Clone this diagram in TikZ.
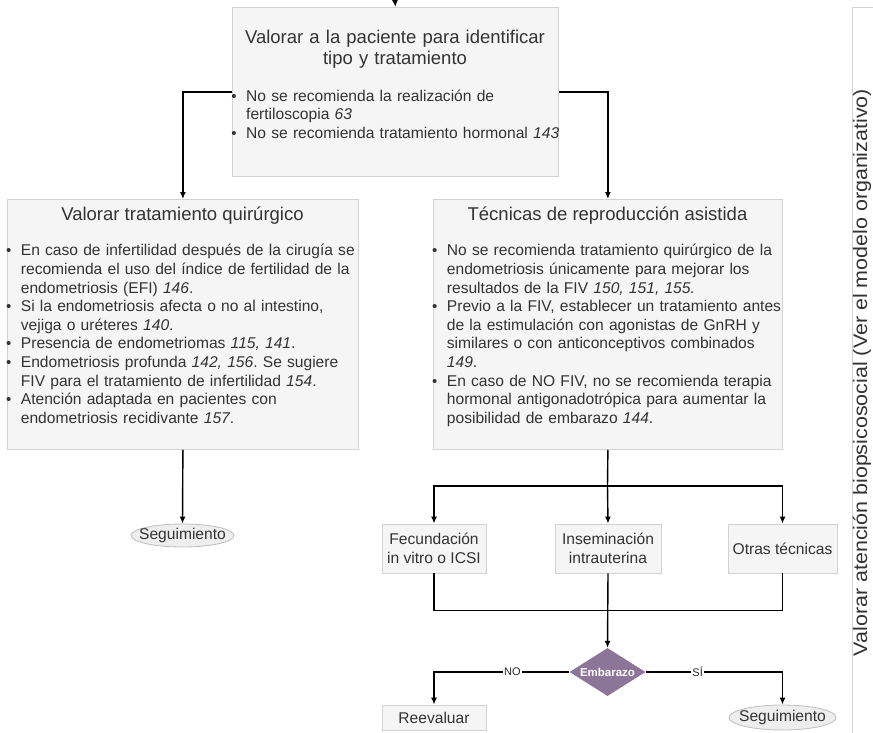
\documentclass[tikz,border=0pt]{standalone}
\usepackage{fontspec}
\setmainfont{Liberation Sans}
\usetikzlibrary{arrows.meta,shapes.geometric}
\definecolor{txt}{HTML}{333333}
\definecolor{boxfill}{HTML}{F5F5F5}
\definecolor{boxline}{HTML}{D2D2D2}
\definecolor{ovalfill}{HTML}{EEEEEE}
\definecolor{ovalline}{HTML}{BDBDBD}
\definecolor{purp}{HTML}{8C7599}
\setlength{\parindent}{0pt}
\frenchspacing
\newcommand{\bul}{\leavevmode\llap{{\fontsize{15}{15}\selectfont\textbullet}\hspace{9.5pt}}}
\tikzset{
  box/.style={draw=boxline, fill=boxfill, line width=0.8pt, inner sep=0pt},
  smallbox/.style={box, align=center, text=txt, font=\fontsize{15.6}{18.6}\selectfont},
  oval/.style={ellipse, draw=ovalline, fill=ovalfill, line width=0.8pt, inner sep=0pt, text=txt, font=\fontsize{15.6}{18.6}\selectfont},
  titletxt/.style={inner sep=0pt, text=txt, font=\fontsize{18.5}{21.5}\selectfont},
  bodytxt/.style={anchor=north west, inner sep=0pt, text width=420pt, align=left, text=txt, font=\fontsize{15.6}{18.6}\selectfont},
  arr/.style={draw=black, line width=1.4pt, -{Latex[length=7pt,width=6pt]}},
  conn/.style={draw=black, line width=1.4pt},
  lab/.style={fill=white, inner sep=1pt, text=black!85, font=\fontsize{11}{12}\selectfont},
}
\begin{document}
\begin{tikzpicture}[x=1pt,y=-1pt]
\useasboundingbox (0,0) rectangle (873,732);
\clip (0,0) rectangle (873,732);
% boxes
\node[box, anchor=north west, minimum width=326, minimum height=169] (top) at (232,7) {};
\node[box, anchor=north west, minimum width=351, minimum height=250] (left) at (7,199) {};
\node[box, anchor=north west, minimum width=349, minimum height=250] (right) at (433,199) {};
% top box text
\node[titletxt, anchor=north, text width=320pt, align=center] (toptitle) at (395,28) {\strut Valorar a la paciente para identificar\\tipo y tratamiento};
\node[bodytxt] (topbody) at (246,88) {\strut\bul No se recomienda la realización de\\
fertiloscopia \textit{63}\\
\bul No se recomienda tratamiento hormonal \textit{143}};
% left box text
\node[titletxt, anchor=base] (lefttitle) at (182.5,220.7) {Valorar tratamiento quirúrgico};
\node[bodytxt] (leftbody) at (20.7,242.7) {\strut\bul En caso de infertilidad después de la cirugía se\\
recomienda el uso del índice de fertilidad de la\\
endometriosis (EFI) \textit{146}.\\
\bul Si la endometriosis afecta o no al intestino,\\
vejiga o uréteres \textit{140}.\\
\bul Presencia de endometriomas \textit{115, 141}.\\
\bul Endometriosis profunda \textit{142, 156}. Se sugiere\\
FIV para el tratamiento de infertilidad \textit{154}.\\
\bul Atención adaptada en pacientes con\\
endometriosis recidivante \textit{157}.};
% right box text
\node[titletxt, anchor=base] (righttitle) at (607.5,220.7) {Técnicas de reproducción asistida};
\node[bodytxt] (rightbody) at (446.7,242.7) {\strut\bul No se recomienda tratamiento quirúrgico de la\\
endometriosis únicamente para mejorar los\\
resultados de la FIV \textit{150, 151, 155.}\\
\bul Previo a la FIV, establecer un tratamiento antes\\
de la estimulación con agonistas de GnRH y\\
similares o con anticonceptivos combinados\\
\textit{149}.\\
\bul En caso de NO FIV, no se recomienda terapia\\
hormonal antigonadotrópica para aumentar la\\
posibilidad de embarazo \textit{144}.};
% small boxes
\node[smallbox, minimum width=104, minimum height=49] (fiv) at (434,548.5) {Fecundación\\in vitro o ICSI};
\node[smallbox, minimum width=106, minimum height=49] (ins) at (608,548.5) {Inseminación\\intrauterina};
\node[smallbox, minimum width=109, minimum height=49] (otras) at (782.5,548.5) {Otras técnicas};
\node[smallbox, minimum width=104, minimum height=25] (reev) at (434,717.5) {Reevaluar};
\node[oval, minimum width=103, minimum height=23] (seg1) at (182.5,535.5) {\makebox[0pt]{Seguimiento}};
\node[oval, minimum width=107, minimum height=25] (seg2) at (782.5,717.5) {\makebox[0pt]{Seguimiento}};
\node[diamond, fill=purp, inner sep=0pt, minimum width=76, minimum height=48, text=white, font=\fontsize{11.5}{12}\selectfont\bfseries] (emb) at (607.5,672) {\makebox[0pt]{Embarazo}};
% right panel
\node[anchor=north west, draw=boxline, fill=white, line width=0.8pt, minimum width=40, minimum height=740, inner sep=0pt] (panel) at (852,7) {};
\node[rotate=90, inner sep=0pt, text=txt, font=\fontsize{19.5}{21}\selectfont] (paneltxt) at (862,372.5) {\scalebox{1.1}[1]{Valorar atención biopsicosocial (Ver el modelo organizativo)}};
% connectors
\coordinate (entry) at (395,0);
\draw[arr] (entry) -- (top.north);
\draw[arr] (top.west) -| (left.north);
\draw[arr] (top.east) -| (right.north);
\draw[arr] (left.south) -- (seg1.north);
\coordinate (split) at (607.5,486);
\coordinate (merge) at (607.5,610.5);
\draw[conn] (right.south) -- (split);
\draw[arr] (split) -| (fiv.north);
\draw[arr] (split) -- (ins.north);
\draw[arr] (split) -| (otras.north);
\draw[conn] (fiv.south) |- (merge);
\draw[conn] (otras.south) |- (merge);
\draw[arr] (ins.south) -- (emb.north);
\draw[arr] (emb.west) -| (reev.north) node[lab, pos=0.21] {NO};
\draw[arr] (emb.east) -| (seg2.north) node[lab, pos=0.19] {SÍ};
\end{tikzpicture}
\end{document}
